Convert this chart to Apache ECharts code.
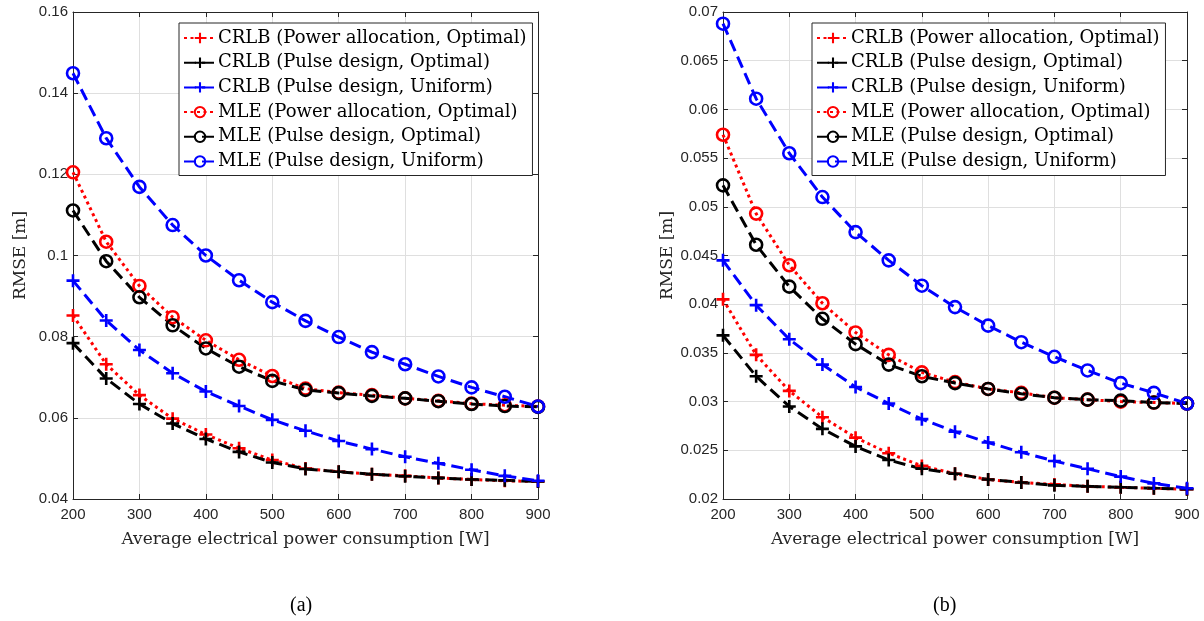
<!DOCTYPE html>
<html>
<head>
<meta charset="utf-8">
<script src="https://cdn.jsdelivr.net/npm/echarts@6/dist/echarts.min.js"></script>
<style>
  html, body { margin: 0; padding: 0; background: #fff; }
  #main { width: 1204px; height: 621px; }
</style>
</head>
<body>
<div id="main"></div>
<script>
// x values (W)
var powerW = [200, 250, 300, 350, 400, 450, 500, 550, 600, 650, 700, 750, 800, 850, 900];

// (a)
var crlbPowerA  = [0.0852, 0.0732, 0.0656, 0.0598, 0.0559, 0.0525, 0.0496, 0.0475, 0.0467, 0.0461, 0.0457, 0.0452, 0.0448, 0.0445, 0.0443];
var crlbOptA    = [0.0784, 0.0697, 0.0634, 0.0586, 0.0548, 0.0516, 0.0490, 0.0474, 0.0467, 0.0461, 0.0456, 0.0452, 0.0448, 0.0446, 0.0443];
var crlbUniA    = [0.0938, 0.0840, 0.0767, 0.0710, 0.0665, 0.0629, 0.0595, 0.0568, 0.0543, 0.0523, 0.0504, 0.0488, 0.0472, 0.0457, 0.0445];
var mlePowerA   = [0.1205, 0.1034, 0.0925, 0.0848, 0.0791, 0.0743, 0.0703, 0.0672, 0.0662, 0.0656, 0.0648, 0.0642, 0.0635, 0.0631, 0.0628];
var mleOptA     = [0.1111, 0.0986, 0.0897, 0.0828, 0.0771, 0.0726, 0.0691, 0.0669, 0.0661, 0.0654, 0.0648, 0.0641, 0.0634, 0.0629, 0.0627];
var mleUniA     = [0.1449, 0.1289, 0.1169, 0.1075, 0.1000, 0.0939, 0.0885, 0.0839, 0.0799, 0.0762, 0.0732, 0.0702, 0.0675, 0.0652, 0.0628];

// (b)
var crlbPowerB  = [0.0405, 0.0348, 0.0311, 0.0284, 0.0263, 0.0247, 0.0234, 0.0226, 0.0220, 0.0217, 0.0215, 0.0213, 0.0212, 0.0211, 0.0210];
var crlbOptB    = [0.0368, 0.0326, 0.0295, 0.0272, 0.0254, 0.0240, 0.0231, 0.0226, 0.0220, 0.0217, 0.0214, 0.0213, 0.0212, 0.0211, 0.0210];
var crlbUniB    = [0.0445, 0.0399, 0.0364, 0.0338, 0.0315, 0.0298, 0.0282, 0.0269, 0.0258, 0.0248, 0.0239, 0.0231, 0.0223, 0.0216, 0.0211];
var mlePowerB   = [0.0574, 0.0493, 0.0440, 0.0401, 0.0371, 0.0348, 0.0330, 0.0320, 0.0313, 0.0309, 0.0304, 0.0302, 0.0300, 0.0299, 0.0298];
var mleOptB     = [0.0522, 0.0461, 0.0418, 0.0385, 0.0359, 0.0338, 0.0326, 0.0319, 0.0313, 0.0308, 0.0304, 0.0302, 0.0301, 0.0299, 0.0298];
var mleUniB     = [0.0688, 0.0611, 0.0555, 0.0510, 0.0474, 0.0445, 0.0419, 0.0397, 0.0378, 0.0361, 0.0346, 0.0332, 0.0319, 0.0309, 0.0298];

var names = [
  "CRLB (Power allocation, Optimal)",
  "CRLB (Pulse design, Optimal)",
  "CRLB (Pulse design, Uniform)",
  "MLE (Power allocation, Optimal)",
  "MLE (Pulse design, Optimal)",
  "MLE (Pulse design, Uniform)"
];

var RED = "#ff0000", BLACK = "#000000", BLUE = "#0000ff";
var PLUS = "path://M4,0H6V4H10V6H6V10H4V6H0V4H4Z";
var serif = "DejaVu Serif";
var axisColor = "#262626";
var gridColor = "#dfdfdf";

function pairs(ys) {
  return powerW.map(function (x, i) { return [x, ys[i]]; });
}

function mkSeries(name, ys, color, mark, dash, idx) {
  var s = {
    name: name,
    type: "line",
    xAxisIndex: idx,
    yAxisIndex: idx,
    data: pairs(ys),
    showAllSymbol: true,
    animation: false,
    lineStyle: { color: color, width: 3, type: dash, cap: "butt" },
    emphasis: { disabled: true }
  };
  if (mark === "+") {
    s.symbol = PLUS;
    s.symbolSize = 13;
    s.symbolKeepAspect = true;
    s.itemStyle = { color: color, borderWidth: 0 };
  } else {
    s.symbol = "circle";
    s.symbolSize = 12;
    s.itemStyle = { color: "rgba(255,255,255,0)", borderColor: color, borderWidth: 2.6 };
  }
  return s;
}

var DOT = [3, 3.5];
var DASH = [12, 6];

function seriesFor(idx, a) {
  return [
    mkSeries(names[0], a[0], RED, "+", DOT, idx),
    mkSeries(names[1], a[1], BLACK, "+", DASH, idx),
    mkSeries(names[2], a[2], BLUE, "+", DASH, idx),
    mkSeries(names[3], a[3], RED, "o", DOT, idx),
    mkSeries(names[4], a[4], BLACK, "o", DASH, idx),
    mkSeries(names[5], a[5], BLUE, "o", DASH, idx)
  ];
}

function xMain(gi) {
  return {
    type: "value", gridIndex: gi, min: 200, max: 900, interval: 100,
    name: "Average electrical power consumption [W]",
    nameLocation: "middle", nameGap: 32,
    nameTextStyle: { fontFamily: serif, fontSize: 17, color: axisColor },
    axisLine: { show: true, onZero: false, lineStyle: { color: axisColor, width: 1 } },
    axisTick: { show: true, inside: true, length: 5, lineStyle: { color: axisColor } },
    axisLabel: { margin: 8, fontFamily: "Liberation Sans", fontSize: 15, color: axisColor },
    splitLine: { show: true, lineStyle: { color: gridColor, width: 1 } }
  };
}
function xTop(gi) {
  return {
    type: "value", gridIndex: gi, position: "top", min: 200, max: 900, interval: 100,
    axisLine: { show: true, onZero: false, lineStyle: { color: axisColor, width: 1 } },
    axisTick: { show: true, inside: true, length: 5, lineStyle: { color: axisColor } },
    axisLabel: { show: false }, splitLine: { show: false }
  };
}
function yMain(gi, mn, mx, step) {
  return {
    type: "value", gridIndex: gi, min: mn, max: mx, interval: step,
    name: "RMSE [m]", nameLocation: "middle", nameGap: 44, nameRotate: 90,
    nameTextStyle: { fontFamily: serif, fontSize: 17, color: axisColor },
    axisLine: { show: true, onZero: false, lineStyle: { color: axisColor, width: 1 } },
    axisTick: { show: true, inside: true, length: 5, lineStyle: { color: axisColor } },
    axisLabel: { margin: 5, fontFamily: "Liberation Sans", fontSize: 15, color: axisColor },
    splitLine: { show: true, lineStyle: { color: gridColor, width: 1 } }
  };
}
function yRight(gi, mn, mx, step) {
  return {
    type: "value", gridIndex: gi, position: "right", min: mn, max: mx, interval: step,
    axisLine: { show: true, onZero: false, lineStyle: { color: axisColor, width: 1 } },
    axisTick: { show: true, inside: true, length: 5, lineStyle: { color: axisColor } },
    axisLabel: { show: false }, splitLine: { show: false }
  };
}
function legendAt(left) {
  return {
    orient: "vertical", left: left, top: 23,
    data: names,
    itemWidth: 32, itemHeight: 13, itemGap: 4.7,
    padding: [5, 6, 4, 4],
    backgroundColor: "#fff",
    borderColor: axisColor, borderWidth: 1,
    selectedMode: false,
    textStyle: { fontFamily: serif, fontSize: 18, color: "#000", lineHeight: 20, padding: [0, 0, 0, -3] }
  };
}

var myChart = echarts.init(document.getElementById("main"));
var option = {
  backgroundColor: "#fff",
  animation: false,
  grid: [
    { left: 73, right: 666, top: 12, bottom: 122, containLabel: false },
    { left: 723, right: 17, top: 12, bottom: 122, containLabel: false }
  ],
  xAxis: [xMain(0), xMain(1), xTop(0), xTop(1)],
  yAxis: [yMain(0, 0.04, 0.16, 0.02), yMain(1, 0.02, 0.07, 0.005), yRight(0, 0.04, 0.16, 0.02), yRight(1, 0.02, 0.07, 0.005)],
  legend: [legendAt(179), legendAt(812)],
  series: seriesFor(0, [crlbPowerA, crlbOptA, crlbUniA, mlePowerA, mleOptA, mleUniA])
    .concat(seriesFor(1, [crlbPowerB, crlbOptB, crlbUniB, mlePowerB, mleOptB, mleUniB])),
  graphic: [
    { type: "text", left: 290, top: 596, style: { text: "(a)", font: "20px 'Liberation Serif'", fill: "#000" } },
    { type: "text", left: 933, top: 596, style: { text: "(b)", font: "20px 'Liberation Serif'", fill: "#000" } }
  ]
};
myChart.setOption(option);
</script>
</body>
</html>
